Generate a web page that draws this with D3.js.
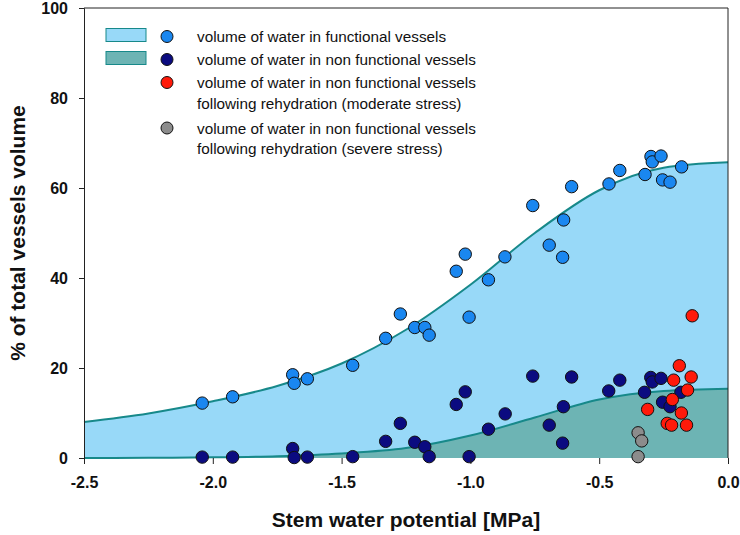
<!DOCTYPE html>
<html><head><meta charset="utf-8">
<script src="https://cdn.jsdelivr.net/npm/d3@7"></script>
<style>body{margin:0;background:#fff}svg{display:block;font-family:"Liberation Sans",Arial,sans-serif}</style>
</head><body><svg id="c" width="740" height="535"></svg>
<script>
// functional vessels (light blue points)
const funcX = [-2.041,-1.923,-1.690,-1.684,-1.633,-1.457,-1.329,-1.272,-1.216,-1.177,-1.160,-1.055,-1.020,-1.005,-0.930,-0.866,-0.758,-0.694,-0.642,-0.638,-0.607,-0.462,-0.420,-0.322,-0.299,-0.294,-0.260,-0.254,-0.225,-0.180];
const funcY = [12.2,13.6,18.5,16.6,17.6,20.6,26.6,32.0,29.0,29.0,27.3,41.5,45.3,31.3,39.6,44.7,56.1,47.3,44.6,52.9,60.3,60.9,63.9,63.0,67.0,65.8,67.1,61.8,61.3,64.7];
// non functional vessels (navy points)
const nonX = [-2.041,-1.923,-1.690,-1.684,-1.633,-1.457,-1.329,-1.272,-1.216,-1.177,-1.160,-1.055,-1.020,-1.005,-0.930,-0.865,-0.758,-0.694,-0.639,-0.642,-0.607,-0.463,-0.420,-0.324,-0.300,-0.294,-0.260,-0.254,-0.225,-0.183];
const nonY = [0.2,0.2,2.1,0.1,0.2,0.3,3.7,7.7,3.5,2.5,0.3,11.9,14.7,0.3,6.4,9.8,18.2,7.3,11.4,3.3,18.0,14.9,17.3,14.6,17.9,16.9,17.7,12.4,11.4,14.6];
// rehydration, moderate stress (red)
const modX = [-0.139,-0.189,-0.211,-0.143,-0.157,-0.216,-0.312,-0.181,-0.236,-0.219,-0.161];
const modY = [31.6,20.5,17.3,18.0,15.1,13.0,10.8,10.0,7.7,7.3,7.3];
// rehydration, severe stress (grey)
const sevX = [-0.349,-0.335,-0.349];
const sevY = [5.6,3.8,0.3];
// fitted curves
const curveX = [-2.5,-2.25,-2.0,-1.75,-1.5,-1.25,-1.0,-0.75,-0.5,-0.25,0.0];
const upperY = [8.0,9.9,12.6,16.0,21.0,28.5,38.5,50.0,59.5,64.5,65.7];
const lowerY = [0.0,0.05,0.15,0.4,1.0,2.2,5.0,9.0,13.0,14.9,15.4];
const xTicks = [-2.5,-2.0,-1.5,-1.0,-0.5,0.0];
const xTickLabels = ["-2.5","-2.0","-1.5","-1.0","-0.5","0.0"];
const yTicks = [0,20,40,60,80,100];
const legendLabels = [
  ["volume of water in functional vessels"],
  ["volume of water in non functional vessels"],
  ["volume of water in non functional vessels","following rehydration (moderate stress)"],
  ["volume of water in non functional vessels","following rehydration (severe stress)"]
];

const svg = d3.select("#c");
const L=84,R=728,T=8,B=458;
const x = d3.scaleLinear().domain([-2.5,0]).range([L,R]);
const y = d3.scaleLinear().domain([0,100]).range([B,T]);

const cUp = curveX.map((v,i)=>[v,upperY[i]]);
const cLo = curveX.map((v,i)=>[v,lowerY[i]]);
const area = d3.area().x(d=>x(d[0])).y0(y(0)).y1(d=>y(d[1])).curve(d3.curveMonotoneX);
const line = d3.line().x(d=>x(d[0])).y(d=>y(d[1])).curve(d3.curveMonotoneX);

const cLight="#98d9f8", cDark="#6db4b4", cLine="#17898a";
svg.append("path").attr("d",area(cUp)).attr("fill",cLight);
svg.append("path").attr("d",area(cLo)).attr("fill",cDark);
svg.append("path").attr("d",line(cUp)).attr("fill","none").attr("stroke",cLine).attr("stroke-width",2);
svg.append("path").attr("d",line(cLo)).attr("fill","none").attr("stroke",cLine).attr("stroke-width",2);

const colors = {func:"#1a87f0", non:"#0b0b80", mod:"#ff1a0a", sev:"#8c8c8c"};
function pts(xs,ys,col){
  svg.append("g").selectAll("circle").data(xs.map((v,i)=>[v,ys[i]])).join("circle")
    .attr("cx",d=>x(d[0])).attr("cy",d=>y(d[1])).attr("r",6.2)
    .attr("fill",col).attr("stroke","#111").attr("stroke-width",1);
}
pts(funcX,funcY,colors.func);
pts(nonX,nonY,colors.non);
pts(modX,modY,colors.mod);
pts(sevX,sevY,colors.sev);

// frame
svg.append("line").attr("x1",L).attr("x2",R).attr("y1",T).attr("y2",T).attr("stroke","#222").attr("stroke-width",1);
svg.append("line").attr("x1",R).attr("x2",R).attr("y1",T).attr("y2",B).attr("stroke","#222").attr("stroke-width",1);

// axes
const ya = svg.append("g").attr("transform",`translate(${L},0)`)
  .call(d3.axisLeft(y).tickValues(yTicks).tickSize(5).tickPadding(11).tickFormat(d3.format("d")));
const xa = svg.append("g").attr("transform",`translate(0,${B})`)
  .call(d3.axisBottom(x).tickValues(xTicks).tickSize(6).tickPadding(13).tickFormat((d,i)=>xTickLabels[i]));
xa.select(".domain").remove();
[ya,xa].forEach(a=>{
  a.selectAll("text").attr("font-size",16).attr("font-weight","bold").attr("fill","#111").attr("font-family","'Liberation Sans',Arial,sans-serif");
  a.selectAll("line").attr("stroke","#222");
  a.select(".domain").attr("stroke","#222");
});

// axis titles
svg.append("text").attr("x",(L+R)/2).attr("y",527).attr("text-anchor","middle")
  .attr("font-size",21).attr("font-weight","bold").attr("fill","#111").text("Stem water potential [MPa]");
svg.append("text").attr("transform",`translate(25,${(T+B)/2}) rotate(-90)`).attr("text-anchor","middle")
  .attr("font-size",21).attr("font-weight","bold").attr("fill","#111").text("% of total vessels volume");

// legend
const lg = svg.append("g");
const rectFill=[cLight,cDark];
rectFill.forEach((f,i)=>{
  lg.append("rect").attr("x",106).attr("y",28.5+i*23).attr("width",40).attr("height",13)
    .attr("fill",f).attr("stroke",cLine).attr("stroke-width",1);
});
const legCols=[colors.func,colors.non,colors.mod,colors.sev];
const legY=[36.5,59.5,82.5,128];
legendLabels.forEach((lines,i)=>{
  lg.append("circle").attr("cx",167).attr("cy",legY[i]).attr("r",6).attr("fill",legCols[i]).attr("stroke","#111");
  lines.forEach((t,j)=>{
    lg.append("text").attr("x",197).attr("y",legY[i]+5.5+j*20.5).attr("font-size",15.3).attr("fill","#111").text(t);
  });
});
</script></body></html>
